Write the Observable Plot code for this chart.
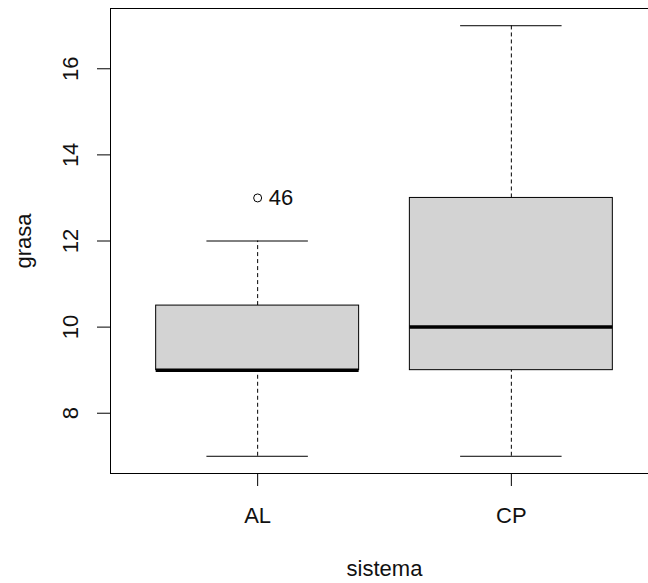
<!DOCTYPE html>
<html>
<head>
<meta charset="utf-8">
<script src="https://cdn.jsdelivr.net/npm/d3@7"></script>
<script src="https://cdn.jsdelivr.net/npm/@observablehq/plot@0.6"></script>
<style>
  html, body { margin: 0; padding: 0; background: #fff; }
  svg { display: block; }
</style>
</head>
<body>
<div id="chart"></div>
<script>
// Data
const groups   = ["AL", "CP"];
const whiskLo  = [7, 7];
const q1       = [9, 9];
const medians  = [9, 10];
const q3       = [10.5, 13];
const whiskHi  = [12, 17];
const outGroup = ["AL"];
const outValue = [13];
const outLabel = ["46"];
const yTicks   = [8, 10, 12, 14, 16];
const xLabel   = "sistema";
const yLabel   = "grasa";

const boxes = groups.map((g, i) => ({
  g, pos: i + 1, lo: whiskLo[i], q1: q1[i], med: medians[i], q3: q3[i], hi: whiskHi[i]
}));
const outliers = outGroup.map((g, i) => ({
  pos: groups.indexOf(g) + 1, v: outValue[i], label: outLabel[i]
}));

const font = "Liberation Sans, Arial, sans-serif";
const fs = 22;
const txt = "#111";

const chart = Plot.plot({
  width: 648,
  height: 583,
  marginLeft: 110,
  marginRight: -10,
  marginTop: 8,
  marginBottom: 110,
  style: { fontFamily: font, fontSize: fs + "px", background: "#fff", color: "#000" },
  x: { type: "linear", domain: [0.42, 2.58], range: [110, 658], axis: null },
  y: { domain: [6.6, 17.4], range: [473, 8], axis: null },
  marks: [
    // whiskers (dashed)
    Plot.ruleX(boxes, { x: "pos", y1: "q3", y2: "hi", stroke: "#000", strokeWidth: 1, strokeDasharray: "4,3" }),
    Plot.ruleX(boxes, { x: "pos", y1: "lo", y2: "q1", stroke: "#000", strokeWidth: 1, strokeDasharray: "4,3" }),
    // whisker caps
    Plot.ruleY(boxes, { y: "hi", x1: d => d.pos - 0.2, x2: d => d.pos + 0.2, stroke: "#000", strokeWidth: 1 }),
    Plot.ruleY(boxes, { y: "lo", x1: d => d.pos - 0.2, x2: d => d.pos + 0.2, stroke: "#000", strokeWidth: 1 }),
    // boxes
    Plot.rect(boxes, { x1: d => d.pos - 0.4, x2: d => d.pos + 0.4, y1: "q1", y2: "q3", fill: "#d3d3d3", stroke: "#000", strokeWidth: 1 }),
    // medians
    Plot.ruleY(boxes, { y: "med", x1: d => d.pos - 0.4, x2: d => d.pos + 0.4, stroke: "#000", strokeWidth: 3.5 }),
    // outliers
    Plot.dot(outliers, { x: "pos", y: "v", r: 4, stroke: "#000", fill: "none", strokeWidth: 1 }),
    Plot.text(outliers, { x: "pos", y: "v", text: "label", textAnchor: "start", dx: 11, lineAnchor: "middle", fill: txt, fontSize: fs }),
    // frame
    Plot.frame({ stroke: "#000", strokeWidth: 1 }),
    // ticks
    Plot.axisY({ ticks: yTicks, tickSize: 13, tickFormat: () => "", label: null, stroke: "#000" }),
    Plot.axisX({ ticks: [1, 2], tickSize: 13, tickFormat: () => "", label: null, stroke: "#000" }),
    // tick labels
    Plot.text(yTicks, { y: d => d, text: d => String(d), frameAnchor: "left", dx: -40, rotate: -90, textAnchor: "middle", lineAnchor: "middle", fill: txt, fontSize: fs }),
    Plot.text(groups, { x: (d, i) => i + 1, text: d => d, frameAnchor: "bottom", dy: 42, textAnchor: "middle", lineAnchor: "middle", fill: txt, fontSize: fs }),
    // axis titles
    Plot.text([yLabel], { text: d => d, frameAnchor: "left", dx: -87, rotate: -90, textAnchor: "middle", lineAnchor: "middle", fill: txt, fontSize: fs }),
    Plot.text([xLabel], { text: d => d, frameAnchor: "bottom", dy: 95, textAnchor: "middle", lineAnchor: "middle", fill: txt, fontSize: fs })
  ]
});

document.getElementById("chart").appendChild(chart);
</script>
</body>
</html>
